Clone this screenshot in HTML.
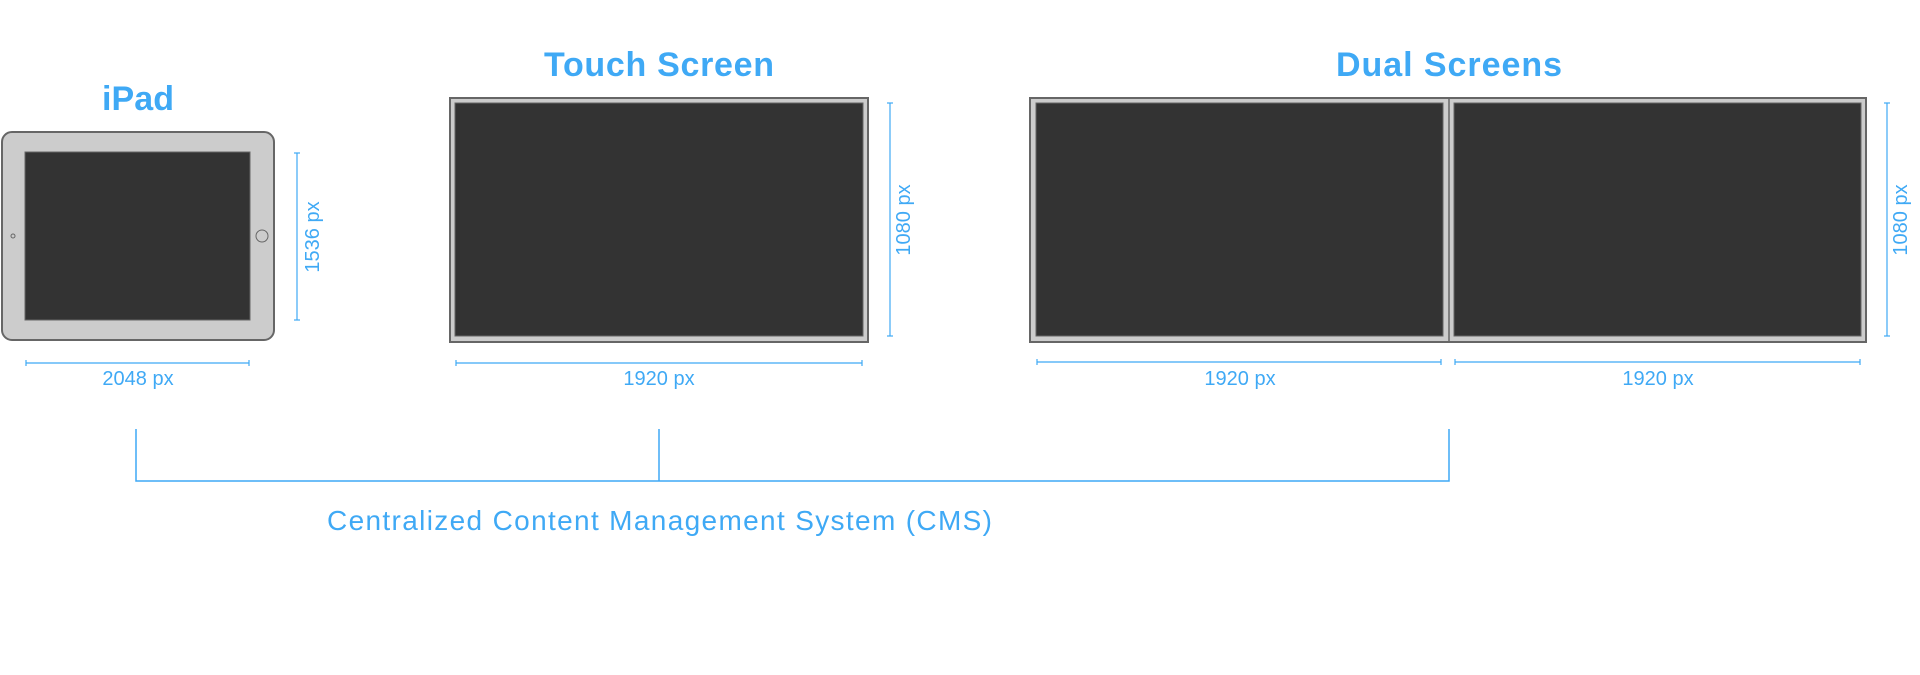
<!DOCTYPE html>
<html><head><meta charset="utf-8"><style>
html,body{margin:0;padding:0;background:#fff;width:1920px;height:675px;overflow:hidden}
svg{display:block}
text{font-family:"Liberation Sans",sans-serif;fill:#3fa9f5}
</style></head><body>
<svg width="1920" height="675" viewBox="0 0 1920 675">
<g>
<text x="138" y="110" font-size="34" font-weight="bold" text-anchor="middle" textLength="72">iPad</text>
<rect x="2" y="132" width="272" height="208" rx="10" fill="#ccc" stroke="#666" stroke-width="2"/>
<rect x="25" y="152" width="225" height="168" fill="#333" stroke="#666" stroke-width="1"/>
<circle cx="13" cy="236" r="2" fill="none" stroke="#666"/>
<circle cx="262" cy="236" r="6" fill="none" stroke="#666"/>
<g stroke="#3fa9f5" stroke-width="1.2">
<line x1="297" y1="153" x2="297" y2="320"/><line x1="294" y1="153" x2="300" y2="153"/><line x1="294" y1="320" x2="300" y2="320"/></g>
<text transform="translate(319,237) rotate(-90)" font-size="20" text-anchor="middle">1536 px</text>
<g stroke="#3fa9f5" stroke-width="1.2">
<line x1="26" y1="363" x2="249" y2="363"/><line x1="26" y1="360" x2="26" y2="366"/><line x1="249" y1="360" x2="249" y2="366"/></g>
<text x="138" y="385" font-size="20" text-anchor="middle">2048 px</text>
</g>
<g>
<text x="659" y="76" font-size="34" font-weight="bold" text-anchor="middle" textLength="230">Touch Screen</text>
<rect x="450" y="98" width="418" height="244" fill="#ccc" stroke="#666" stroke-width="2"/>
<rect x="455" y="103" width="408" height="233" fill="#333" stroke="#666" stroke-width="1"/>
<g stroke="#3fa9f5" stroke-width="1.2">
<line x1="890" y1="103" x2="890" y2="336"/><line x1="887" y1="103" x2="893" y2="103"/><line x1="887" y1="336" x2="893" y2="336"/></g>
<text transform="translate(910,220) rotate(-90)" font-size="20" text-anchor="middle">1080 px</text>
<g stroke="#3fa9f5" stroke-width="1.2">
<line x1="456" y1="363" x2="862" y2="363"/><line x1="456" y1="360" x2="456" y2="366"/><line x1="862" y1="360" x2="862" y2="366"/></g>
<text x="659" y="385" font-size="20" text-anchor="middle">1920 px</text>
</g>
<g>
<text x="1449" y="76" font-size="34" font-weight="bold" text-anchor="middle" textLength="226">Dual Screens</text>
<rect x="1030" y="98" width="836" height="244" fill="#ccc" stroke="#666" stroke-width="2"/>
<line x1="1449" y1="98" x2="1449" y2="342" stroke="#666" stroke-width="1.5"/>
<rect x="1036" y="103" width="407" height="233" fill="#333" stroke="#666" stroke-width="1"/>
<rect x="1454" y="103" width="407" height="233" fill="#333" stroke="#666" stroke-width="1"/>
<g stroke="#3fa9f5" stroke-width="1.2">
<line x1="1887" y1="103" x2="1887" y2="336"/><line x1="1884" y1="103" x2="1890" y2="103"/><line x1="1884" y1="336" x2="1890" y2="336"/></g>
<text transform="translate(1907,220) rotate(-90)" font-size="20" text-anchor="middle">1080 px</text>
<g stroke="#3fa9f5" stroke-width="1.2">
<line x1="1037" y1="362" x2="1441" y2="362"/><line x1="1037" y1="359" x2="1037" y2="365"/><line x1="1441" y1="359" x2="1441" y2="365"/></g>
<text x="1240" y="385" font-size="20" text-anchor="middle">1920 px</text>
<g stroke="#3fa9f5" stroke-width="1.2">
<line x1="1455" y1="362" x2="1860" y2="362"/><line x1="1455" y1="359" x2="1455" y2="365"/><line x1="1860" y1="359" x2="1860" y2="365"/></g>
<text x="1658" y="385" font-size="20" text-anchor="middle">1920 px</text>
</g>
<g stroke="#3fa9f5" stroke-width="1.5" fill="none">
<polyline points="136,429 136,481 1449,481 1449,429"/><line x1="659" y1="429" x2="659" y2="481"/></g>
<text x="327" y="530" font-size="28" textLength="665">Centralized Content Management System (CMS)</text>
</svg>
</body></html>
